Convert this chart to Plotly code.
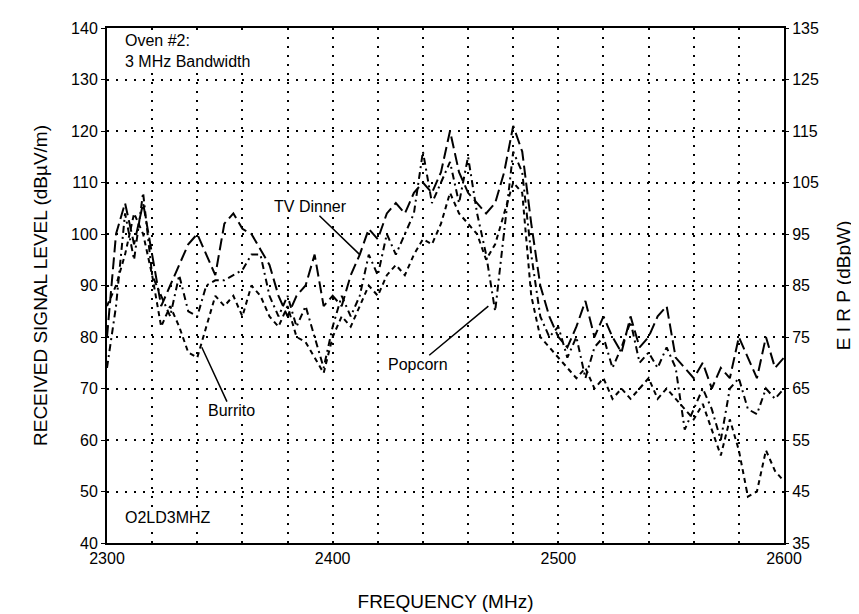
import plotly.graph_objects as go

# frequency samples (MHz), 4 MHz apart
freq = list(range(2300, 2601, 4))

# received signal level (dBuV/m)
tv_dinner = [80, 100, 106, 98, 106, 96, 86, 90, 94, 98, 100, 96, 92, 102, 104, 101,
             100, 97, 94, 88, 84, 88, 90, 96, 86, 88, 86, 92, 96, 101, 99, 104,
             106, 104, 108, 110, 108, 112, 120, 112, 108, 106, 104, 106, 112, 121, 116, 102,
             90, 84, 80, 78, 82, 87, 80, 84, 80, 77, 84, 78, 80, 84, 86, 76,
             74, 72, 75, 70, 74, 72, 80, 76, 72, 80, 74, 76]
popcorn = [74, 86, 104, 95, 108, 92, 88, 84, 92, 85, 84, 90, 91, 91, 92, 93,
           96, 96, 88, 84, 88, 82, 86, 80, 74, 82, 88, 84, 88, 96, 92, 100,
           96, 100, 104, 116, 106, 110, 114, 106, 115, 104, 96, 85, 100, 116, 112, 96,
           84, 80, 82, 76, 80, 72, 78, 80, 74, 78, 83, 75, 77, 74, 78, 74,
           62, 66, 70, 66, 60, 70, 72, 66, 65, 70, 68, 70]
burrito = [86, 90, 96, 104, 100, 92, 82, 86, 82, 77, 76, 82, 88, 86, 88, 84,
           90, 88, 84, 82, 86, 80, 79, 76, 73, 80, 84, 82, 86, 90, 88, 92,
           94, 92, 96, 99, 98, 102, 108, 104, 102, 100, 95, 98, 104, 110, 108, 88,
           80, 78, 76, 74, 72, 74, 70, 72, 68, 70, 68, 70, 72, 68, 70, 68,
           66, 64, 67, 62, 57, 64, 58, 49, 50, 58, 54, 52]

x_ticks = list(range(2300, 2601, 20))
x_tick_text = [str(v) if v % 100 == 0 else "" for v in x_ticks]
y_left_ticks = list(range(40, 141, 10))
y_right_ticks = list(range(35, 136, 10))

FONT = "Liberation Sans Narrow, Arial Narrow, Liberation Sans, Arial, sans-serif"

fig = go.Figure()

series = [("TV Dinner", tv_dinner, "12px,5px"),
          ("Popcorn", popcorn, "7px,4px,2px,4px"),
          ("Burrito", burrito, "5px,4px")]
for name, vals, dash in series:
    fig.add_trace(go.Scatter(x=freq, y=vals, mode="lines", name=name,
                             line=dict(color="black", width=2, dash=dash)))

# dummy trace to carry the right-hand EIRP axis
fig.add_trace(go.Scatter(x=[2300], y=[35], yaxis="y2", mode="markers",
                         marker=dict(opacity=0), showlegend=False, hoverinfo="skip"))

# curve labels with leader lines
labels = [("TV Dinner", 2390, 105.3, 2412, 96),
          ("Popcorn", 2438, 74.7, 2469, 86),
          ("Burrito", 2355, 65.7, 2342, 78)]
for txt, tx, ty, px, py in labels:
    fig.add_annotation(x=px, y=py, ax=tx, ay=ty, axref="x", ayref="y", text=txt,
                       showarrow=True, arrowhead=0, arrowwidth=1.5, arrowcolor="black",
                       bgcolor="white", borderpad=0,
                       font=dict(size=16, color="black", family=FONT))

fig.add_annotation(x=0.025, y=0.995, xref="paper", yref="paper", xanchor="left", yanchor="top",
                   text="Oven #2:<br>3 MHz Bandwidth", align="left", showarrow=False,
                   bgcolor="white", borderpad=0,
                   font=dict(size=16, color="black", family=FONT))
fig.add_annotation(x=0.025, y=0.05, xref="paper", yref="paper", xanchor="left", yanchor="middle",
                   text="O2LD3MHZ", showarrow=False, bgcolor="white", borderpad=0,
                   font=dict(size=16, color="black", family=FONT))

fig.update_layout(
    width=859, height=614,
    margin=dict(l=99, r=83, t=17, b=79),
    paper_bgcolor="white", plot_bgcolor="white",
    showlegend=False,
    font=dict(family=FONT, size=16, color="black"),
    xaxis=dict(range=[2300, 2600], tickvals=x_ticks, ticktext=x_tick_text,
               showgrid=True, gridcolor="black", gridwidth=2, griddash="2px,7px",
               showline=True, linecolor="black", linewidth=2, mirror=True,
               ticks="", title=dict(text="FREQUENCY (MHz)", standoff=28),
               zeroline=False),
    yaxis=dict(range=[40, 140], tickvals=y_left_ticks,
               showgrid=True, gridcolor="black", gridwidth=2, griddash="2px,7px",
               showline=True, linecolor="black", linewidth=2, mirror=True,
               ticks="outside", ticklen=4, tickcolor="black",
               title=dict(text="RECEIVED SIGNAL LEVEL (dBµV/m)", standoff=18),
               zeroline=False),
    yaxis2=dict(range=[35, 135], tickvals=y_right_ticks, overlaying="y", side="right",
                showgrid=False, showline=False, ticks="outside", ticklen=4,
                tickcolor="black", title=dict(text="E I R P (dBpW)", standoff=18),
                zeroline=False),
)

fig.write_html("out.html")
